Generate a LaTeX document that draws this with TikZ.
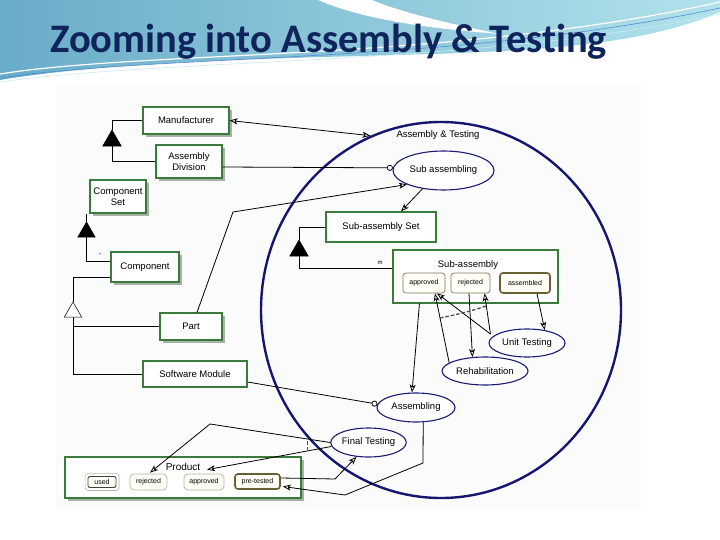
\documentclass[tikz,border=0pt]{standalone}
\usepackage{fontspec}
\setmainfont{Liberation Sans}
\newfontfamily\titlefont[Ligatures=NoCommon]{Carlito}
\usetikzlibrary{shapes.geometric,arrows.meta,calc,shadows}
\definecolor{objgreen}{RGB}{58,122,58}
\definecolor{objshadow}{RGB}{165,178,165}
\definecolor{procnavy}{RGB}{28,28,120}
\definecolor{bignavy}{RGB}{22,22,112}
\definecolor{stateline}{RGB}{125,115,85}
\definecolor{statebold}{RGB}{105,95,55}
\definecolor{statefill}{RGB}{255,255,248}
\definecolor{titleblue}{RGB}{16,36,92}
\definecolor{bgA}{RGB}{105,172,200}
\definecolor{bgB}{RGB}{178,226,236}
\definecolor{diagbg}{RGB}{251,251,251}
\begin{document}
\begin{tikzpicture}[x=1pt,y=-1pt,
  obj/.style={draw=objgreen, line width=1.1pt, fill=white, inner sep=1pt, align=center, font=\fontsize{9.5}{10.5}\selectfont},
  physobj/.style={obj, drop shadow={shadow xshift=3pt, shadow yshift=-3pt, fill=objshadow, opacity=1}},
  proc/.style={ellipse, draw=procnavy, line width=1.1pt, fill=white, inner sep=0pt, font=\fontsize{9.5}{10.5}\selectfont},
  st/.style={rounded corners=3pt, draw=stateline, line width=0.7pt, fill=statefill, inner sep=0pt, font=\fontsize{7}{8}\selectfont},
  stinit/.style={st, draw=statebold, line width=1.6pt},
  stfaint/.style={st, draw=stateline!55, rounded corners=4pt},
  aggtri/.style={regular polygon, regular polygon sides=3, inner sep=0pt, outer sep=0pt, fill=black, draw=black, line width=0.5pt},
  gentri/.style={aggtri, fill=white},
  link/.style={line width=0.8pt, draw=black},
  effarrow/.style={link, -{Stealth[open, length=8pt, width=6pt, inset=2pt]}},
  instr/.style={link, -{Circle[length=6pt, width=6pt, fill=white]}},
  xorline/.style={draw=black!70, line width=1.3pt, dash pattern=on 3.5pt off 2pt}
]
\useasboundingbox (0,0) rectangle (720,540);
\fill[white] (0,0) rectangle (720,540);
% slide background
\shade[left color=bgA, right color=bgB] (0,0) -- (720,0) -- (720,12) .. controls (650,42) and (560,50) .. (430,54) .. controls (300,58) and (120,60) .. (0,80) -- cycle;
\fill[white] (318,0) .. controls (360,18) and (420,28) .. (500,34) .. controls (440,22) and (395,10) .. (372,0) -- cycle;
\draw[white, line width=1.2pt] (0,74) .. controls (150,50) and (450,62) .. (720,2);
\draw[bgA!80!blue, line width=0.6pt] (0,78) .. controls (160,54) and (460,64) .. (720,8);
\draw[bgB!70!white, line width=0.6pt] (0,82) .. controls (170,58) and (480,66) .. (720,14);
\fill[diagbg] (56,84) rectangle (641,509);
% title
\node[font=\titlefont\bfseries\fontsize{40.5}{45}\selectfont, text=titleblue, anchor=base west, inner sep=0pt] (title) at (50,53) {Zooming into Assembly \& Testing};
% big process
\node[ellipse, draw=bignavy, line width=2.4pt, minimum width=360pt, minimum height=376pt, inner sep=0pt] (atz) at (441,310) {};
\node[font=\fontsize{9.5}{10.5}\selectfont, inner sep=0pt] (atlabel) at (438,135) {Assembly \& Testing};
% objects
\node[physobj, minimum width=86pt, minimum height=27pt] (man) at (186,120.5) {Manufacturer};
\node[physobj, minimum width=66pt, minimum height=33pt] (asmdiv) at (189,161.5) {Assembly\\Division};
\node[physobj, minimum width=56pt, minimum height=33pt] (compset) at (118,196.5) {Component\\Set};
\node[physobj, minimum width=68pt, minimum height=30pt] (comp) at (145,267) {Component};
\node[physobj, minimum width=62pt, minimum height=27pt] (part) at (191,326.5) {Part};
\node[obj, minimum width=104pt, minimum height=26pt] (swm) at (195,374) {Software Module};
\node[obj, minimum width=110pt, minimum height=30pt] (subset) at (381,227) {Sub-assembly Set};
\node[obj, minimum width=165pt, minimum height=53pt] (suba) at (475.5,276.5) {};
\node[font=\fontsize{9.5}{10.5}\selectfont, inner sep=0pt] (subalabel) at (468,265) {Sub-assembly};
\node[st, minimum width=42pt, minimum height=20pt] (approved) at (424,283) {approved};
\node[st, minimum width=39pt, minimum height=20pt] (rejected) at (470.5,283) {rejected};
\node[stinit, minimum width=50pt, minimum height=20pt] (assembled) at (525,283) {assembled};
\node[physobj, minimum width=236pt, minimum height=41pt] (product) at (183,477.5) {};
\node[font=\fontsize{10}{11}\selectfont, inner sep=0pt] (prodlabel) at (183,467) {Product};
\node[st, draw=black!75, line width=0.9pt, rounded corners=2pt, minimum width=28pt, minimum height=11pt] (used) at (102,482) {used};
\draw[stateline!55, line width=0.6pt, rounded corners=3pt] ($(used.south west)+(-2.5,2.5)$) rectangle ($(used.north east)+(2.5,-2.5)$);
\node[stfaint, minimum width=37pt, minimum height=16pt] (prej) at (148.5,482) {rejected};
\node[stfaint, minimum width=40pt, minimum height=16pt] (pappr) at (204,482) {approved};
\node[stinit, minimum width=45pt, minimum height=15pt] (pretest) at (257.5,481.5) {pre-tested};
% processes
\node[proc, minimum width=101pt, minimum height=39pt] (subasm) at (443.5,170.5) {Sub assembling};
\node[proc, minimum width=76pt, minimum height=28pt] (unit) at (527,343) {Unit Testing};
\node[proc, minimum width=86pt, minimum height=28pt] (rehab) at (485,371) {Rehabilitation};
\node[proc, minimum width=78pt, minimum height=29pt] (assembling) at (416,407.5) {Assembling};
\node[proc, minimum width=71pt, minimum height=29pt] (final) at (368.5,442.5) {Final Testing};
% structural links
\node[aggtri, minimum size=21.4pt] (tA) at (112,140.7) {};
\draw[link] (man.west) -| (tA.corner 1);
\draw[link] (tA.south) |- (asmdiv.west);
\node[aggtri, minimum size=20pt] (tB) at (86.5,232) {};
\draw[link] (tB.corner 1) -- (tB.corner 1 |- compset.south);
\draw[link] (tB.south) |- ($(comp.west)+(0,-6)$);
\node[font=\fontsize{5}{5}\selectfont, inner sep=0pt] (mult1) at (100,255) {*};
\node[gentri, minimum size=20pt] (tC) at (73,312) {};
\draw[link] ($(comp.west)+(0,10)$) -| (tC.corner 1);
\draw[link] (tC.south) |- (swm.west);
\draw[link] (tC.south |- part.west) -- (part.west);
\node[aggtri, minimum size=21.4pt] (tD) at (299,250.7) {};
\draw[link] (subset.west) -| (tD.corner 1);
\draw[link] (tD.south) |- ($(suba.west)+(0,-8.5)$);
\node[font=\fontsize{6}{6}\selectfont, inner sep=0pt] (mlab) at (380,263) {m};
% procedural links
\draw[link, {Stealth[open, length=8pt, width=6pt, inset=2pt]}-{Stealth[open, length=8pt, width=6pt, inset=2pt]}] (man.east) -- (atz.112);
\draw[instr] ($(asmdiv.east)+(0,5.5)$) -- (subasm.177);
\draw[effarrow] ($(part.north)+(6,0)$) -- (233,212) -- (subasm.201);
\draw[effarrow] (subasm.221) -- ($(subset.north)+(20,0)$);
\draw[effarrow] ($(assembled.south)+(12,0)$) -- (unit.36);
\draw[effarrow] ($(unit.west)+(2,-9)$) -- ($(approved.south)+(13,0)$);
\draw[effarrow] ($(unit.west)+(2,-9)$) -- ($(rejected.south)+(14,0)$);
\draw[effarrow] (rehab.167) -- ($(approved.south)+(11,0)$);
\draw[effarrow] ($(rejected.south)+(-1.5,0)$) -- (rehab.132);
\draw[effarrow] ($(suba.south west)+(27,0)$) -- (assembling.105);
\draw[xorline] (440,318) .. controls (455,315) and (472,311) .. (486,306);
\draw[instr] ($(swm.east)+(0,8)$) -- (assembling.175);
\draw[effarrow] (final.west) -- (210,424) -- ($(prej.north)+(1.5,-1)$);
\draw[effarrow] ($(final.west)+(1,4)$) -- ($(pappr.north)+(3,-4)$);
\draw[xorline] (307.5,441) -- (307.5,452);
\draw[effarrow] ($(pretest.east)+(0,-3.5)$) -- (335,479) -- (final.230);
\draw[effarrow] (assembling.296) -- (423,463) -- (345,495) -- ($(pretest.east)+(2,5)$);
\end{tikzpicture}
\end{document}
